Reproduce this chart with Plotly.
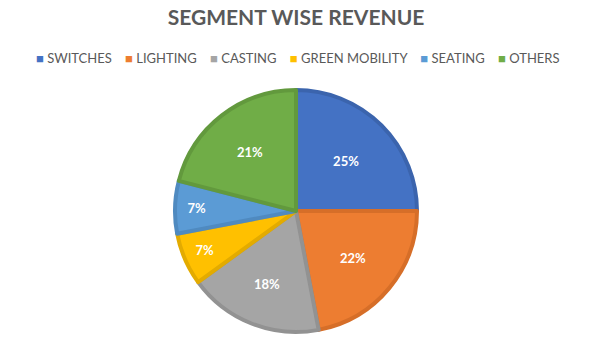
import plotly.graph_objects as go

categories = ["SWITCHES", "LIGHTING", "CASTING", "GREEN MOBILITY", "SEATING", "OTHERS"]
values = [25, 22, 18, 7, 7, 21]
colors = ["#4472C4", "#ED7D31", "#A5A5A5", "#FFC000", "#5B9BD5", "#70AD47"]
border_colors = ["#3B64AD", "#D66E28", "#929292", "#E3AB00", "#4F8AC0", "#62993D"]

fig = go.Figure(go.Pie(
    labels=categories,
    values=values,
    sort=False,
    direction="clockwise",
    rotation=0,
    marker=dict(colors=colors, line=dict(color=border_colors, width=4)),
    texttemplate="%{percent:.0%}",
    textposition="inside",
    insidetextorientation="horizontal",
    textfont=dict(family="Lato", size=13, color="white", weight="bold"),
    domain=dict(x=[175/592, 417/592], y=[12/344, 254/344]),
    hoverinfo="label+percent",
    showlegend=False,
))

# Custom one-row legend built from the category names and colours
gap = "\u00a0" * 4
items = []
for name, col in zip(categories, colors):
    items.append(f"<span style='color:{col};font-size:13px'>\u25A0</span>\u00a0{name}")
legend_text = gap.join(items)

fig.add_annotation(
    text=legend_text, xref="paper", yref="paper",
    x=297.5/592, y=1 - 58/344, xanchor="center", yanchor="middle",
    showarrow=False, font=dict(family="Lato", size=13, color="#595959"),
)

fig.update_layout(
    width=592, height=344,
    margin=dict(l=0, r=0, t=0, b=0),
    paper_bgcolor="white",
    title=dict(text="<b>SEGMENT WISE REVENUE</b>", x=0.5, xanchor="center",
               y=1 - 18/344, yanchor="middle",
               font=dict(family="Lato", size=21, color="#595959")),
)

fig.write_html("out.html")
